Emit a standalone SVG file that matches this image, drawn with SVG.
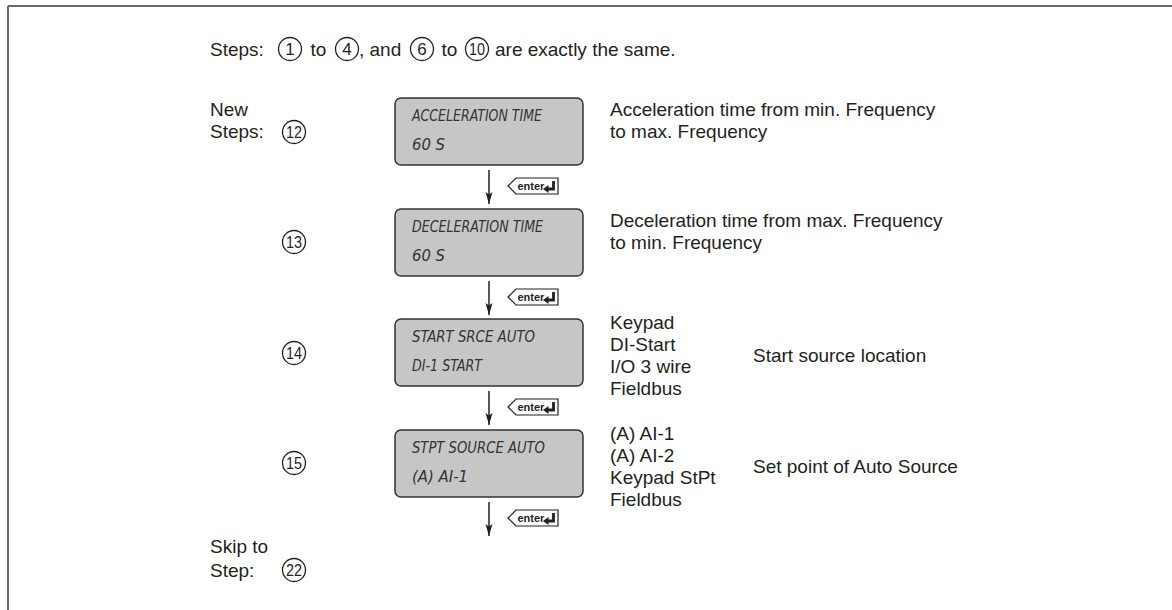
<svg xmlns="http://www.w3.org/2000/svg" xmlns:xlink="http://www.w3.org/1999/xlink" width="1172" height="610" viewBox="0 0 1172 610">
<style>
.t{font-family:"Liberation Sans",Arial,sans-serif;font-size:19px;fill:#231f20}
.n{font-family:"Liberation Sans",Arial,sans-serif;font-size:17px;fill:#231f20;text-anchor:middle}
.c{fill:none;stroke:#231f20;stroke-width:1.3}
.box{fill:#c6c6c6;stroke:#333;stroke-width:1.5}
.lcd{font-family:"DejaVu Sans Condensed","DejaVu Sans",sans-serif;font-style:italic;font-size:16px;fill:#333}
.ln{stroke:#231f20;stroke-width:1.5;fill:none}
.frame{stroke:#6a6a6a;stroke-width:2;fill:none}
</style>
<defs>
<marker id="ah" markerWidth="12" markerHeight="8" refX="12" refY="4" orient="auto" markerUnits="userSpaceOnUse" viewBox="0 0 12 8">
<path d="M0,0.5 L12,4 L0,7.5 L2.5,4 Z" fill="#231f20"/>
</marker>
<g id="enter">
<path d="M0,8 L8,0 L50,0 L50,16 L8,16 Z" fill="#fff" stroke="#231f20" stroke-width="1.2"/>
<text x="9.5" y="12" style="font-family:'Liberation Sans',Arial,sans-serif;font-size:11px;font-weight:bold;fill:#231f20">enter</text>
<path d="M45.5,3 L45.5,11 L40,11" fill="none" stroke="#231f20" stroke-width="2.8"/>
<path d="M35,11 L40.5,7 L40.5,15 Z" fill="#231f20"/>
</g>
</defs>

<g id="frame">
<line class="frame" x1="8" y1="6" x2="1172" y2="6"/>
<line class="frame" x1="8" y1="6" x2="8" y2="610" stroke="#444"/>
</g>

<g id="header">
<text class="t" x="210" y="56">Steps:</text>
<circle class="c" cx="290" cy="49" r="11.5"/><text class="n" x="290" y="55">1</text>
<text class="t" x="318.5" y="56" text-anchor="middle">to</text>
<circle class="c" cx="347" cy="49" r="11.5"/><text class="n" x="347" y="55">4</text>
<text class="t" x="359" y="56">, and</text>
<circle class="c" cx="422" cy="49" r="11.5"/><text class="n" x="422" y="55">6</text>
<text class="t" x="449.5" y="56" text-anchor="middle">to</text>
<circle class="c" cx="477" cy="49" r="11.5"/><text class="n" x="477" y="55" textLength="16" lengthAdjust="spacingAndGlyphs">10</text>
<text class="t" x="495" y="56">are exactly the same.</text>
</g>

<g id="labels">
<text class="t" x="210" y="116">New</text>
<text class="t" x="210" y="138">Steps:</text>
<text class="t" x="210" y="553">Skip to</text>
<text class="t" x="210" y="577">Step:</text>
</g>

<g id="step12">
<circle class="c" cx="294" cy="132" r="11.5"/><text class="n" x="294" y="138" textLength="16" lengthAdjust="spacingAndGlyphs">12</text>
<rect class="box" x="395" y="98" width="188" height="67" rx="6"/>
<text class="lcd" x="412" y="121" textLength="130" lengthAdjust="spacingAndGlyphs">ACCELERATION TIME</text>
<text class="lcd" x="412" y="150" textLength="33" lengthAdjust="spacingAndGlyphs">60 S</text>
<text class="t" x="610" y="116">Acceleration time from min. Frequency</text>
<text class="t" x="610" y="138">to max. Frequency</text>
</g>

<g id="step13">
<circle class="c" cx="294" cy="242" r="11.5"/><text class="n" x="294" y="248" textLength="16" lengthAdjust="spacingAndGlyphs">13</text>
<rect class="box" x="395" y="209" width="188" height="67" rx="6"/>
<text class="lcd" x="412" y="232" textLength="131" lengthAdjust="spacingAndGlyphs">DECELERATION TIME</text>
<text class="lcd" x="412" y="261" textLength="33" lengthAdjust="spacingAndGlyphs">60 S</text>
<text class="t" x="610" y="227">Deceleration time from max. Frequency</text>
<text class="t" x="610" y="249">to min. Frequency</text>
</g>

<g id="step14">
<circle class="c" cx="294" cy="353" r="11.5"/><text class="n" x="294" y="359" textLength="16" lengthAdjust="spacingAndGlyphs">14</text>
<rect class="box" x="395" y="319" width="188" height="67" rx="6"/>
<text class="lcd" x="412" y="342" textLength="123" lengthAdjust="spacingAndGlyphs">START SRCE AUTO</text>
<text class="lcd" x="412" y="371" textLength="70" lengthAdjust="spacingAndGlyphs">DI-1 START</text>
<text class="t" x="610" y="329">Keypad</text>
<text class="t" x="610" y="351">DI-Start</text>
<text class="t" x="610" y="373">I/O 3 wire</text>
<text class="t" x="610" y="395">Fieldbus</text>
<text class="t" x="753" y="362">Start source location</text>
</g>

<g id="step15">
<circle class="c" cx="294" cy="463" r="11.5"/><text class="n" x="294" y="469" textLength="16" lengthAdjust="spacingAndGlyphs">15</text>
<rect class="box" x="395" y="430" width="188" height="67" rx="6"/>
<text class="lcd" x="412" y="453" textLength="133" lengthAdjust="spacingAndGlyphs">STPT SOURCE AUTO</text>
<text class="lcd" x="412" y="482" textLength="56" lengthAdjust="spacingAndGlyphs">(A) AI-1</text>
<text class="t" x="610" y="440">(A) AI-1</text>
<text class="t" x="610" y="462">(A) AI-2</text>
<text class="t" x="610" y="484">Keypad StPt</text>
<text class="t" x="610" y="506">Fieldbus</text>
<text class="t" x="753" y="473">Set point of Auto Source</text>
</g>

<g id="step22">
<circle class="c" cx="294" cy="570" r="11.5"/><text class="n" x="294" y="576" textLength="16" lengthAdjust="spacingAndGlyphs">22</text>
</g>

<g id="connectors">
<line class="ln" x1="489" y1="170" x2="489" y2="204" marker-end="url(#ah)"/>
<line class="ln" x1="489" y1="281" x2="489" y2="315" marker-end="url(#ah)"/>
<line class="ln" x1="489" y1="391" x2="489" y2="425" marker-end="url(#ah)"/>
<line class="ln" x1="489" y1="502" x2="489" y2="536" marker-end="url(#ah)"/>
<use xlink:href="#enter" x="508" y="178"/>
<use xlink:href="#enter" x="508" y="289"/>
<use xlink:href="#enter" x="508" y="399"/>
<use xlink:href="#enter" x="508" y="510"/>
</g>
</svg>
